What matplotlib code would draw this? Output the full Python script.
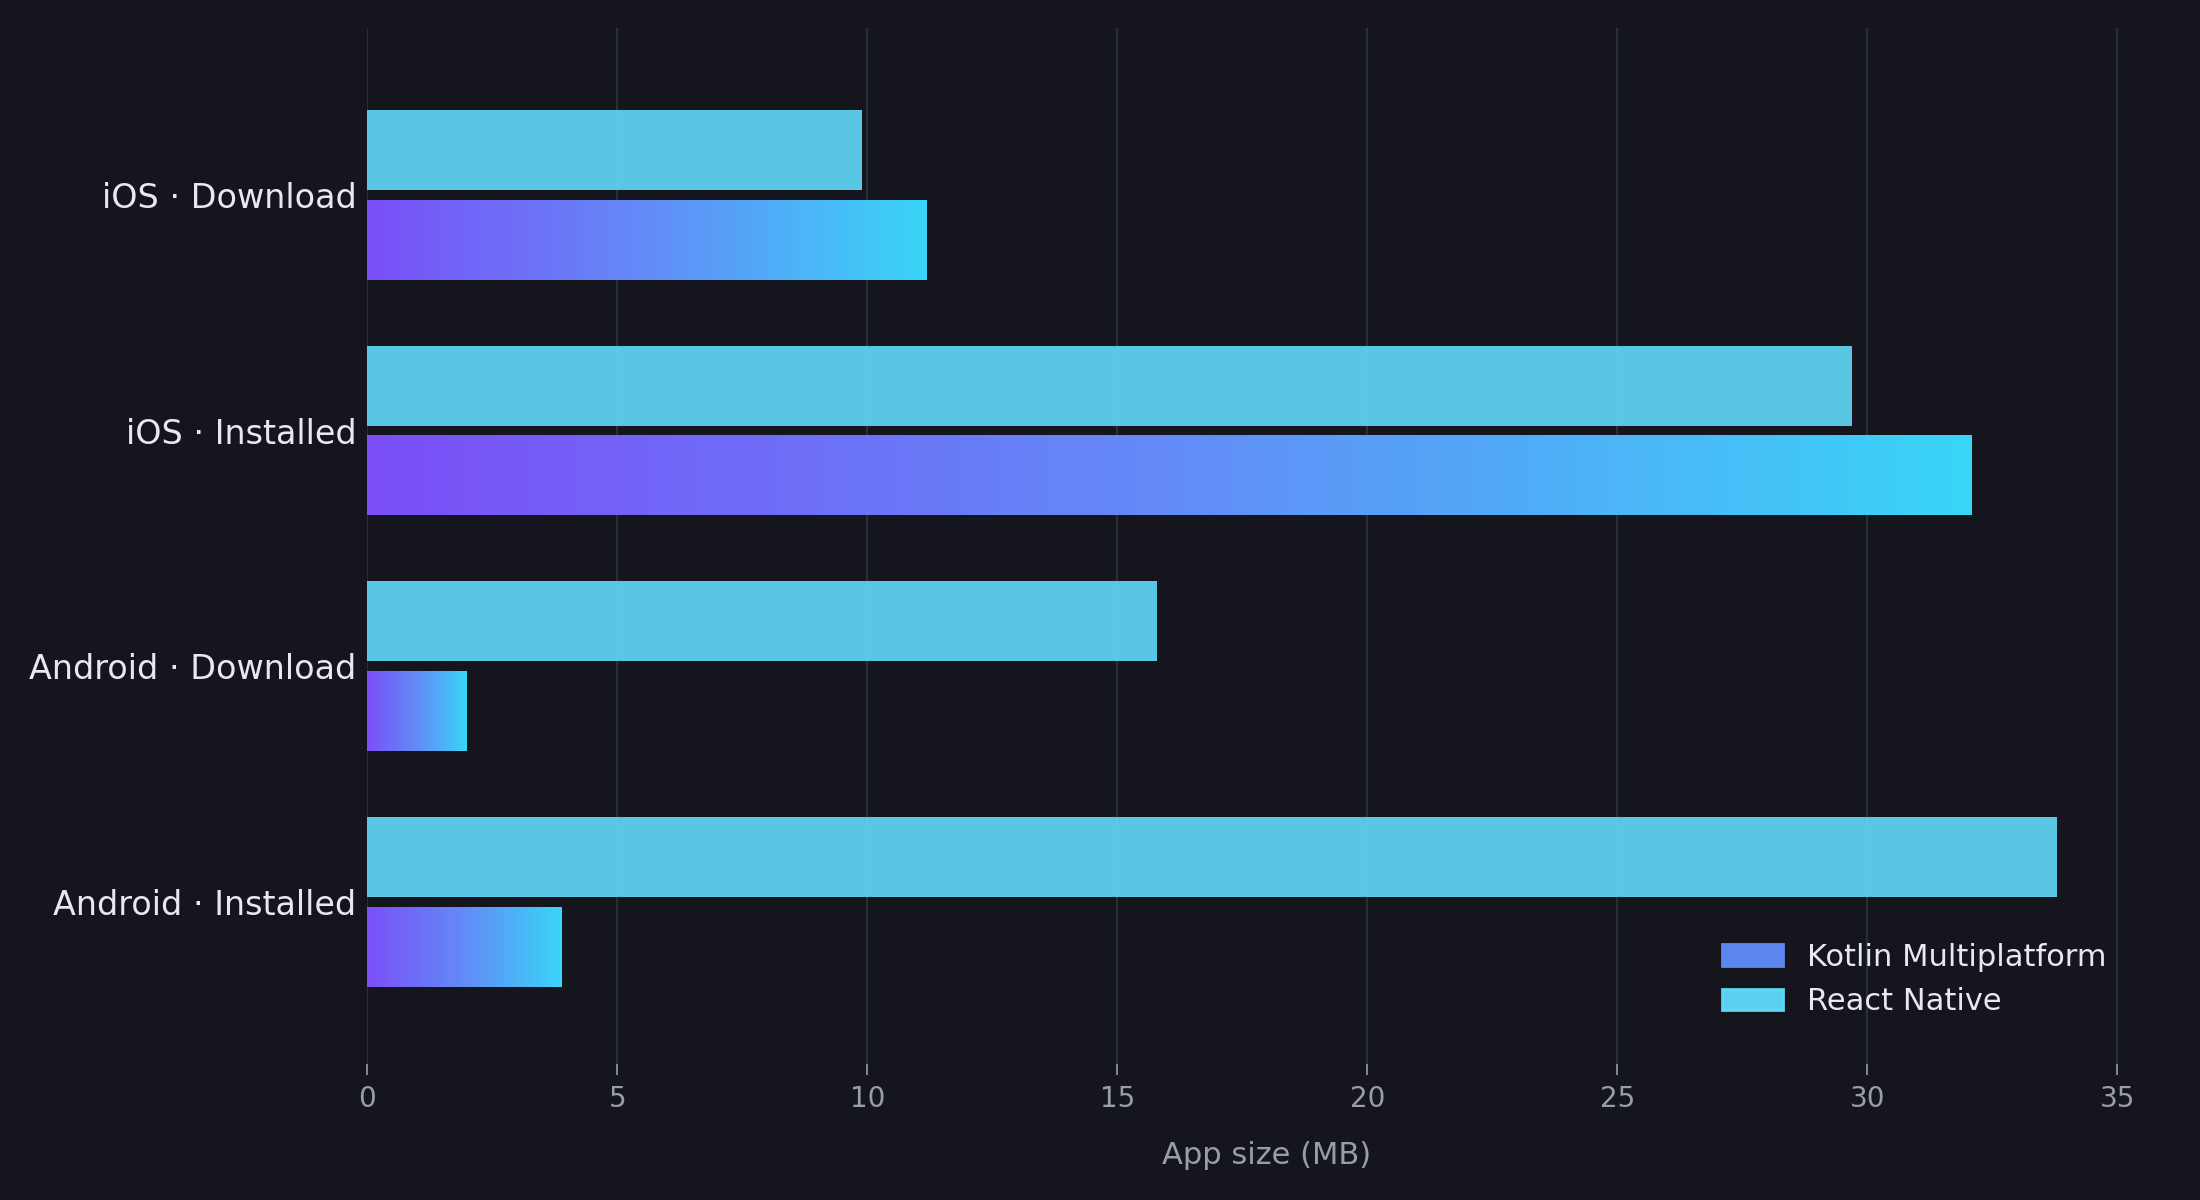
"""App size comparison: Kotlin Multiplatform vs React Native."""
import matplotlib
matplotlib.use("Agg")
import matplotlib.pyplot as plt
import numpy as np
from matplotlib.colors import LinearSegmentedColormap
from matplotlib.patches import Patch

categories = ["iOS · Download", "iOS · Installed", "Android · Download", "Android · Installed"]
kmp_mb = [11.2, 32.1, 2.0, 3.9]
rn_mb = [9.9, 29.7, 15.8, 33.8]

BG = "#15161d"
GRID = "#2a2c36"
MUTED = "#9a9ca8"
TEXT = "#e8e8f0"
RN_COLOR = "#61dafb"
KMP_LEGEND = "#5b87ee"
kmp_cmap = LinearSegmentedColormap.from_list("kmp", ["#7f52ff", "#6690ff", "#3cdcff"])

fig = plt.figure(figsize=(11, 6), dpi=200, facecolor=BG)
ax = fig.add_axes([0.167, 0.113, 0.817, 0.864])
ax.set_facecolor(BG)

y = np.arange(len(categories))
h = 0.34
off = 0.19

ax.barh(y - off, rn_mb, height=h, color=RN_COLOR, alpha=0.9, zorder=2)
kmp_bars = ax.barh(y + off, kmp_mb, height=h, color="none", zorder=2)

# gradient fill per bar, each bar runs the full purple -> cyan ramp
grad = np.linspace(0, 1, 256).reshape(1, -1)
for bar in kmp_bars:
    x0, y0 = bar.get_x(), bar.get_y()
    w, bh = bar.get_width(), bar.get_height()
    im = ax.imshow(grad, cmap=kmp_cmap, aspect="auto", extent=[x0, x0 + w, y0, y0 + bh],
                   zorder=2, alpha=0.97, interpolation="bicubic")
    im.set_clip_path(bar)

ax.set_xlim(0, 35.95)
ax.set_ylim(3.69, -0.71)
ax.set_xticks(range(0, 36, 5))
ax.set_yticks(y)
ax.set_yticklabels(categories)

ax.grid(axis="x", color=GRID, linewidth=0.8, zorder=0)
ax.set_axisbelow(True)
for s in ax.spines.values():
    s.set_visible(False)

ax.tick_params(axis="x", colors=MUTED, labelsize=10, length=4, width=0.6)
ax.tick_params(axis="y", colors=TEXT, labelsize=12, length=0, pad=4)
ax.set_xlabel("App size (MB)", color=MUTED, fontsize=11, labelpad=10)

handles = [Patch(color=KMP_LEGEND, label="Kotlin Multiplatform"),
           Patch(color=RN_COLOR, alpha=0.95, label="React Native")]
leg = ax.legend(handles=handles, loc="lower right", bbox_to_anchor=(0.983, 0.02),
                frameon=False, fontsize=11)
for t in leg.get_texts():
    t.set_color(TEXT)

fig.savefig("out.png", facecolor=BG)
